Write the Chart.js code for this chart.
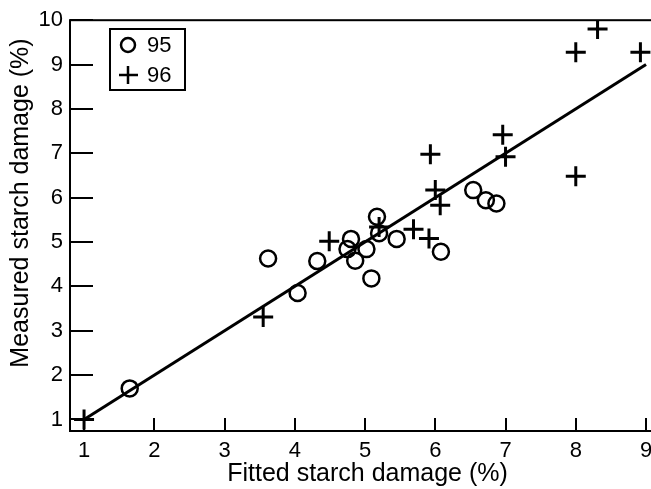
<!DOCTYPE html>
<html>
<head>
<meta charset="utf-8">
<script src="https://cdn.jsdelivr.net/npm/chart.js@4/dist/chart.umd.min.js"></script>
<style>
  html, body { margin: 0; padding: 0; background: #fff; overflow: hidden; }
  #wrap { width: 700px; height: 489px; }
</style>
</head>
<body>
<div id="wrap"><canvas id="grafico" width="700" height="489"></canvas></div>
<script>
// dados
const xTicks = [1, 2, 3, 4, 5, 6, 7, 8, 9];
const yTicks = [1, 2, 3, 4, 5, 6, 7, 8, 9, 10];

const fitted95 = [1.65, 3.62, 4.04, 4.32, 4.80, 4.75, 4.86, 5.02, 5.09, 5.17, 5.20, 5.45, 6.08, 6.54, 6.72, 6.87];
const measured95 = [1.70, 4.63, 3.85, 4.57, 5.07, 4.84, 4.58, 4.84, 4.18, 5.57, 5.20, 5.07, 4.78, 6.17, 5.94, 5.87];

const fitted96 = [1.00, 3.55, 4.49, 5.20, 5.69, 5.91, 6.00, 6.07, 5.93, 6.96, 7.00, 8.00, 8.00, 8.31, 8.92];
const measured96 = [1.00, 3.31, 5.02, 5.34, 5.29, 5.08, 6.17, 5.83, 6.98, 7.42, 6.92, 6.48, 9.28, 9.80, 9.28];

const fitX = [1, 9];
const fitY = [1, 9];

const xTitle = "Fitted starch damage (%)";
const yTitle = "Measured starch damage (%)";

const fonte = "'Liberation Sans', Arial, sans-serif";
const toPoints = (xs, ys) => xs.map((x, i) => ({ x: x, y: ys[i] }));

// caixa, marcas internas, título vertical e legenda
const moldura = {
  id: "moldura",
  afterDraw(chart) {
    const ctx = chart.ctx;
    const a = chart.chartArea;
    const sx = chart.scales.x, sy = chart.scales.y;
    ctx.save();
    ctx.strokeStyle = "#000";
    ctx.lineWidth = 2;
    ctx.strokeRect(a.left, a.top, a.right - a.left, a.bottom - a.top);

    ctx.beginPath();
    xTicks.forEach(v => {
      const px = Math.round(sx.getPixelForValue(v));
      ctx.moveTo(px, a.bottom);
      ctx.lineTo(px, a.bottom - 13);
    });
    yTicks.forEach(v => {
      const py = Math.round(sy.getPixelForValue(v));
      ctx.moveTo(a.left, py);
      ctx.lineTo(a.left + 23, py);
    });
    ctx.stroke();

    // título do eixo y
    ctx.fillStyle = "#000";
    ctx.font = "25px " + fonte;
    ctx.textAlign = "center";
    ctx.textBaseline = "middle";
    ctx.translate(21, 203);
    ctx.rotate(-Math.PI / 2);
    ctx.fillText(yTitle, 0, 0);
    ctx.restore();

    // legenda
    ctx.save();
    ctx.strokeStyle = "#000";
    ctx.fillStyle = "#000";
    ctx.lineWidth = 2;
    ctx.strokeRect(110, 29, 75, 61);
    ctx.font = "22px " + fonte;
    ctx.textAlign = "left";
    ctx.textBaseline = "middle";
    chart.data.datasets.slice(0, 2).forEach((ds, i) => {
      const cy = 45 + i * 30;
      ctx.lineWidth = 2.5;
      if (ds.pointStyle === "circle") {
        ctx.beginPath();
        ctx.arc(128, cy, 7, 0, Math.PI * 2);
        ctx.stroke();
      } else {
        ctx.beginPath();
        ctx.moveTo(119, cy); ctx.lineTo(138, cy);
        ctx.moveTo(128, cy - 9); ctx.lineTo(128, cy + 9);
        ctx.stroke();
      }
      ctx.fillText(ds.label, 147, cy + 1);
    });
    ctx.restore();
  }
};

const config = {
  type: "scatter",
  data: {
    datasets: [
      {
        label: "95",
        data: toPoints(fitted95, measured95),
        pointStyle: "circle",
        pointRadius: 8,
        pointBorderWidth: 2.5,
        borderColor: "#000",
        backgroundColor: "rgba(0,0,0,0)"
      },
      {
        label: "96",
        data: toPoints(fitted96, measured96),
        pointStyle: "cross",
        pointRadius: 10,
        pointBorderWidth: 3,
        borderColor: "#000",
        backgroundColor: "#000"
      },
      {
        type: "line",
        label: "ajuste",
        data: toPoints(fitX, fitY),
        borderColor: "#000",
        borderWidth: 3,
        pointRadius: 0,
        showLine: true,
        fill: false
      }
    ]
  },
  options: {
    responsive: false,
    animation: false,
    events: [],
    layout: { padding: { top: 19, right: 35, left: 0, bottom: 0 } },
    plugins: { legend: { display: false }, tooltip: { enabled: false } },
    scales: {
      x: {
        type: "linear",
        min: 0.80,
        max: 9.27,
        afterBuildTicks: s => { s.ticks = xTicks.map(v => ({ value: v })); },
        afterFit: s => { s.height = 58; },
        border: { display: false },
        grid: { display: false, drawTicks: false },
        ticks: {
          color: "#000",
          padding: 7,
          font: { family: fonte, size: 22 },
          maxRotation: 0
        },
        title: {
          display: true,
          text: xTitle,
          color: "#000",
          padding: { top: 0, bottom: 0 },
          font: { family: fonte, size: 25 }
        }
      },
      y: {
        type: "linear",
        min: 0.74,
        max: 10,
        afterBuildTicks: s => { s.ticks = yTicks.map(v => ({ value: v })); },
        afterFit: s => { s.width = 70; },
        border: { display: false },
        grid: { display: false, drawTicks: false },
        ticks: {
          color: "#000",
          padding: 7,
          font: { family: fonte, size: 22 }
        }
      }
    }
  },
  plugins: [moldura]
};

var grafico = new Chart(document.getElementById("grafico"), config);
</script>
</body>
</html>
